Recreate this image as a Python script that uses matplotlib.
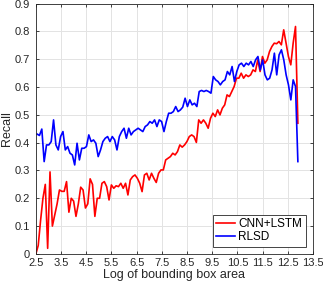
import numpy as np
import matplotlib.pyplot as plt

plt.rcParams['font.family'] = ['Liberation Sans', 'DejaVu Sans']

# recall values, left to right
cnn_lstm = [0.0, 0.03, 0.12, 0.2, 0.25, 0.02, 0.295, 0.10, 0.14, 0.18,
            0.23, 0.225, 0.225, 0.26, 0.15, 0.2, 0.19, 0.135, 0.18, 0.24,
            0.23, 0.165, 0.18, 0.27, 0.25, 0.135, 0.2, 0.2,
            0.254, 0.260, 0.242, 0.194, 0.248, 0.236, 0.245, 0.242, 0.254, 0.236,
            0.254, 0.212, 0.266, 0.278, 0.284, 0.272, 0.254, 0.224, 0.284, 0.290,
            0.266, 0.290, 0.272, 0.257, 0.290, 0.302, 0.302,
            0.338, 0.344, 0.350, 0.362, 0.356, 0.368, 0.392, 0.384,
            0.392, 0.404, 0.422, 0.428, 0.422, 0.401, 0.482, 0.470, 0.482, 0.470,
            0.452, 0.488, 0.506, 0.494, 0.518, 0.500, 0.524, 0.536, 0.572, 0.566,
            0.584, 0.602, 0.632, 0.632, 0.650, 0.632, 0.644, 0.638,
            0.644, 0.662, 0.656, 0.698, 0.656, 0.710, 0.686, 0.698, 0.728, 0.746,
            0.758, 0.756, 0.764, 0.752, 0.806, 0.758, 0.710, 0.680, 0.758, 0.818,
            0.470]

rlsd = [0.431, 0.426, 0.449, 0.332, 0.392, 0.392, 0.404, 0.482, 0.392, 0.374,
        0.422, 0.44, 0.374, 0.386, 0.362, 0.356, 0.32, 0.398, 0.338, 0.38,
        0.38, 0.386, 0.428, 0.404, 0.41, 0.398, 0.35, 0.374, 0.404, 0.416,
        0.422, 0.404,
        0.422, 0.410, 0.374, 0.422, 0.440, 0.452, 0.416, 0.452, 0.428, 0.440,
        0.446, 0.452, 0.446, 0.440, 0.458, 0.464, 0.476, 0.470, 0.482, 0.458,
        0.482, 0.476, 0.440, 0.476, 0.506, 0.506, 0.512, 0.530, 0.512, 0.518,
        0.528, 0.560, 0.530, 0.554, 0.536, 0.542, 0.530, 0.584, 0.588, 0.584,
        0.588, 0.584, 0.578, 0.638, 0.626, 0.620, 0.608, 0.620, 0.626, 0.656,
        0.644, 0.674, 0.620, 0.656, 0.680, 0.686, 0.674,
        0.686, 0.680, 0.692, 0.674, 0.698, 0.710, 0.662, 0.698, 0.644, 0.626,
        0.632, 0.662, 0.722, 0.644, 0.716, 0.734, 0.698, 0.644, 0.608, 0.554,
        0.626, 0.602, 0.332]

x_red = np.linspace(2.5, 12.9, len(cnn_lstm))
x_blue = np.linspace(2.55, 12.9, len(rlsd))

xticks = np.arange(2.5, 13.6, 1.0)
yticks = np.arange(0, 0.91, 0.1)

fig = plt.figure(figsize=(3.23, 2.84), dpi=100)
ax = fig.add_axes([0.111, 0.106, 0.858, 0.881])

ax.plot(x_red, cnn_lstm, color='#ff0000', lw=1.2, label='CNN+LSTM')
ax.plot(x_blue, rlsd, color='#0000ff', lw=1.2, label='RLSD')

ax.set_xlim(2.5, 13.5)
ax.set_ylim(0, 0.9)
ax.set_xticks(xticks)
ax.set_xticklabels(['%g' % t for t in xticks])
ax.set_yticks(yticks)
ax.set_yticklabels(['0'] + ['%.1f' % t for t in yticks[1:]])
ax.grid(True, color='#e3e3e3', lw=0.7)
ax.set_axisbelow(True)
ax.tick_params(direction='in', length=2.5, width=0.6, labelsize=8,
               colors='#262626', top=True, right=True)
ax.tick_params(axis='y', pad=4.5)
ax.tick_params(axis='x', pad=3)
for s in ax.spines.values():
    s.set_color('#262626')
    s.set_linewidth(0.6)

ax.set_xlabel('Log of bounding box area', fontsize=9, color='#262626', labelpad=1)
ax.set_ylabel('Recall', fontsize=9, color='#262626', labelpad=1)

leg = ax.legend(loc='lower right', fontsize=8.5, handlelength=1.6, handletextpad=0.3,
                borderpad=0.3, labelspacing=0.1, fancybox=False, framealpha=1,
                borderaxespad=0.6)
leg.get_frame().set_edgecolor('#262626')
leg.get_frame().set_linewidth(0.6)

fig.savefig('out.png', dpi=100)
